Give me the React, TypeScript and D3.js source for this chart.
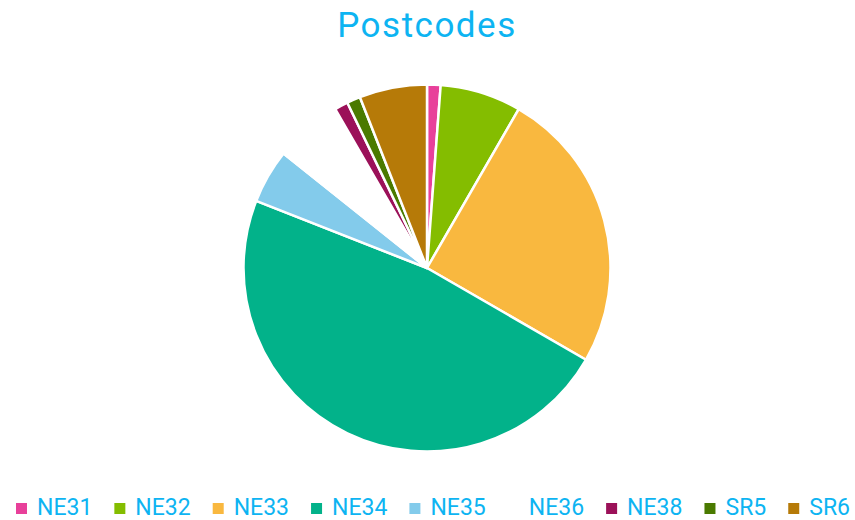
import React, { useMemo } from "react";
import * as d3 from "d3";

const title = "Postcodes";
const categories = ["NE31", "NE32", "NE33", "NE34", "NE35", "NE36", "NE38", "SR5", "SR6"];
const counts = [1, 6, 21, 40, 4, 5, 1, 1, 5];
const colors = ["#e8409a", "#84bd00", "#f9b83f", "#02b28a", "#83cbeb", "#ffffff", "#9b1159", "#4a7a00", "#b67a08"];

const W = 855;
const H = 520;
const TEXT_COLOR = "#0db4f2";
const FONT = "Roboto, 'Open Sans', sans-serif";
const LEGEND_FONT_SIZE = 23;

function measure(text: string, size: number): number {
  const c = document.createElement("canvas").getContext("2d");
  if (!c) return text.length * size * 0.6;
  c.font = `${size}px Roboto`;
  return c.measureText(text).width;
}

export default function App() {
  const cx = 427;
  const cy = 268;
  const r = 183.5;

  const data = categories.map((c, i) => ({ name: c, value: counts[i], color: colors[i] }));
  const pie = d3.pie<any>().sort(null).value((d: any) => d.value);
  const arcs = pie(data);
  const arcGen = d3.arc<any>().innerRadius(0).outerRadius(r);

  const legend = useMemo(() => {
    const sq = 11;
    const gapText = 10;
    const widths = categories.map((c) => measure(c, LEGEND_FONT_SIZE));
    const span = 834;
    const itemsW = widths.reduce((a, w) => a + sq + gapText + w, 0);
    const gap = (span - itemsW) / (categories.length - 1);
    let x = 433 - span / 2;
    return categories.map((c, i) => {
      const item = { name: c, color: colors[i], x, tx: x + sq + gapText };
      x += sq + gapText + widths[i] + gap;
      return item;
    });
  }, []);

  return (
    <svg width={W} height={H} style={{ position: "absolute", left: 0, top: 0, background: "#fff" }}>
      <text x={427} y={37} textAnchor="middle" fill={TEXT_COLOR} fontFamily={FONT} fontSize={35} letterSpacing={1.5}>
        {title}
      </text>
      <g transform={`translate(${cx},${cy})`}>
        {arcs.map((a, i) => (
          <path key={i} d={arcGen(a) || ""} fill={a.data.color} stroke="#fff" strokeWidth={2.5} strokeLinejoin="round" />
        ))}
      </g>
      <g>
        {legend.map((l, i) => (
          <g key={i}>
            <rect x={l.x} y={503} width={11} height={11} fill={l.color} />
            <text x={l.tx} y={515} fill={TEXT_COLOR} fontFamily={FONT} fontSize={LEGEND_FONT_SIZE}>
              {l.name}
            </text>
          </g>
        ))}
      </g>
    </svg>
  );
}
